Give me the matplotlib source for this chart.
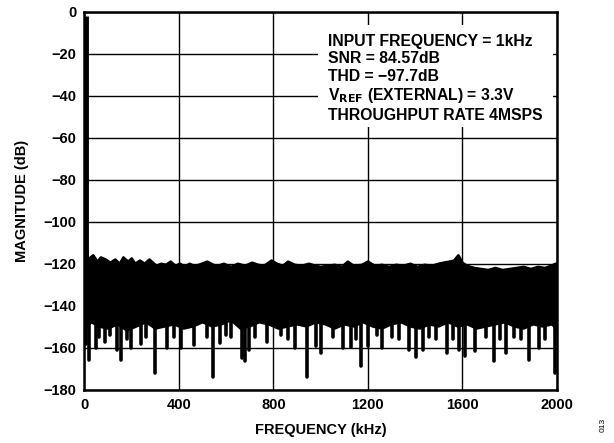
import numpy as np
import matplotlib
matplotlib.use("Agg")
import matplotlib.pyplot as plt
from matplotlib.patches import Rectangle

plt.rcParams['font.family'] = ['Liberation Sans', 'DejaVu Sans']
plt.rcParams['font.weight'] = 'bold'

# fundamental tone
fund_freq = 1.0
fund_db = 0.0

# upper envelope of noise floor (kHz, dB)
upper_freq = [2, 5, 15, 37, 55, 70, 90, 110, 130, 150, 165, 185, 200, 215, 235, 255, 275, 290, 305,
              325, 345, 365, 385, 405, 425, 445, 465, 485, 520, 545, 565, 590, 620, 650, 680, 710,
              735, 760, 792, 815, 840, 862, 890, 920, 950, 980, 1000, 1030, 1060, 1090, 1115, 1140,
              1175, 1200, 1230, 1260, 1290, 1320, 1350, 1380, 1410, 1440, 1470, 1500, 1520, 1545,
              1565, 1583, 1600, 1620, 1650, 1680, 1710, 1740, 1770, 1800, 1830, 1860, 1890, 1920,
              1950, 1975, 1995, 2000]
upper_db = [-110, -109, -118, -116, -119, -117, -118, -119.5, -118, -120, -117, -119, -117.5, -120,
            -118.5, -120, -118, -119.5, -121, -120, -120.5, -119, -121, -120, -121.5, -120, -121,
            -120.5, -119, -120.5, -121, -120, -121.5, -120, -121, -119.5, -120.5, -121, -118.5,
            -120, -121, -119, -120.5, -121, -120, -121, -121.5, -121, -120.5, -121.5, -119, -121,
            -120.5, -119, -121, -120.5, -121.5, -120.5, -121, -120, -121.5, -120.5, -121, -120,
            -119.5, -119, -118.5, -116, -119.5, -121, -122, -122.5, -123, -122, -123, -122.5,
            -122, -121.5, -122.5, -121.5, -122, -121, -120, -120]

# lower edge of dense noise band (kHz, dB)
lower_freq = [0, 10, 30, 60, 100, 140, 180, 220, 260, 300, 340, 380, 420, 460, 500, 540, 580, 620,
              660, 700, 740, 780, 820, 860, 900, 940, 980, 1020, 1060, 1100, 1140, 1180, 1220,
              1260, 1300, 1340, 1380, 1420, 1460, 1500, 1540, 1580, 1620, 1660, 1700, 1740, 1780,
              1820, 1860, 1900, 1940, 1980, 2000]
lower_db = [-152, -150, -148, -150, -151, -149, -152, -150, -148, -151, -150, -149, -151, -150,
            -148, -150, -149, -147, -151, -150, -148, -149, -151, -150, -149, -150, -148, -149,
            -151, -149, -150, -148, -150, -151, -149, -148, -150, -151, -149, -150, -148, -150,
            -149, -151, -150, -149, -148, -150, -151, -149, -150, -149, -152]

# downward spikes (kHz, dB)
spike_freq = [8, 20, 49, 60, 87, 110, 138, 155, 180, 197, 239, 260, 300, 349, 380, 409, 462, 520,
              545, 574, 600, 620, 665, 680, 698, 720, 771, 830, 862, 891, 943, 980, 1000, 1050,
              1094, 1129, 1150, 1172, 1200, 1240, 1261, 1300, 1330, 1372, 1402, 1433, 1460, 1490,
              1533, 1560, 1584, 1612, 1654, 1700, 1735, 1760, 1784, 1820, 1850, 1880, 1925, 1950,
              1993]
spike_db = [-158, -166, -160, -155, -157, -154, -161, -166, -156, -160, -158, -155, -172, -160,
            -155, -160, -158.5, -155, -173.7, -157.6, -154, -155, -164.8, -166.5, -161, -155,
            -157, -154, -156, -160, -173.7, -159, -162.5, -155, -160, -159.4, -156, -168.6, -159,
            -154, -160, -155, -156, -161, -164.4, -161, -155, -156, -162.5, -156, -161, -163.8,
            -161.7, -155, -166.5, -156, -162.5, -155, -156, -166, -160, -156, -172]

x_ticks = [0, 400, 800, 1200, 1600, 2000]
y_ticks = [0, -20, -40, -60, -80, -100, -120, -140, -160, -180]

notes = ["INPUT FREQUENCY = 1kHz", "SNR = 84.57dB", "THD = \u221297.7dB",
         "V$_{\\mathbf{REF}}$ (EXTERNAL) = 3.3V", "THROUGHPUT RATE 4MSPS"]

fig = plt.figure(figsize=(6.14, 4.43), dpi=100)
ax = fig.add_axes([0.1376, 0.12, 0.907 - 0.1376, 0.973 - 0.12])

ax.set_xlim(0, 2000)
ax.set_ylim(-180, 0)
ax.set_xticks(x_ticks)
ax.set_yticks(y_ticks)
ax.set_xticklabels([str(t) for t in x_ticks], fontsize=10.5, fontweight='bold')
ax.set_yticklabels([str(t).replace('-', '\u2212') for t in y_ticks], fontsize=10.5, fontweight='bold')
ax.tick_params(length=0, pad=6)
ax.grid(True, color='black', linewidth=1.0)
ax.set_axisbelow(True)
for s in ax.spines.values():
    s.set_linewidth(1.8)

# noise band
poly_x = np.concatenate([upper_freq, lower_freq[::-1]])
poly_y = np.concatenate([upper_db, lower_db[::-1]])
ax.fill(poly_x, poly_y, color='black', linewidth=1.2, edgecolor='black', zorder=3)
ax.plot(upper_freq, upper_db, color='black', linewidth=2.0, zorder=3, solid_joinstyle='round')
ax.vlines(spike_freq, -147, spike_db, color='black', linewidth=2.6, zorder=3, capstyle='round')

# fundamental
ax.vlines([fund_freq + 4], -150, fund_db - 2, color='black', linewidth=3.5, zorder=4)

# annotation box
ax.add_patch(Rectangle((988, -55), 995, 48.8, transform=ax.transData, facecolor='white',
                       edgecolor='none', zorder=2))
ax.text(1030, -10.6, "\n".join(notes), fontsize=11.3, fontweight='bold', va='top', ha='left',
        linespacing=1.19, zorder=5)

ax.set_xlabel("FREQUENCY (kHz)", fontsize=10.5, fontweight='bold', labelpad=8)
ax.set_ylabel("MAGNITUDE (dB)", fontsize=10.5, fontweight='bold', labelpad=10)
fig.text(0.982, 0.04, "013", rotation=90, fontsize=6, fontweight='normal', ha='center', va='center')

fig.savefig("out.png", dpi=100)
